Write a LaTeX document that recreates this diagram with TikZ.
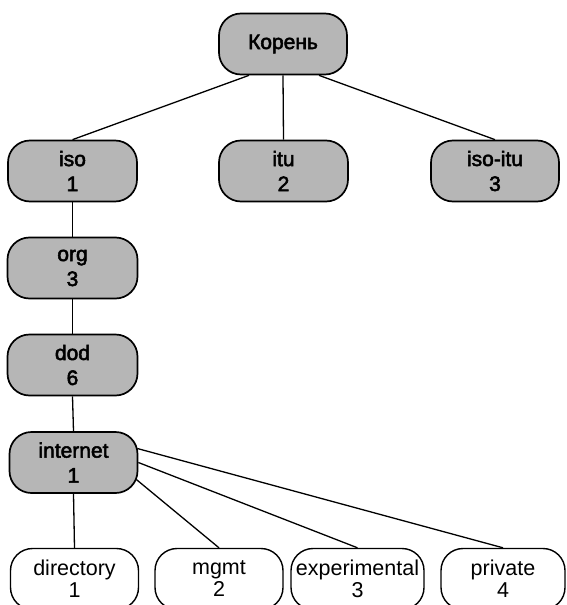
\documentclass[tikz,border=0pt]{standalone}
\usepackage{fontspec}
\setmainfont{Liberation Sans}
\newfontfamily\heavyfont[FakeBold=2.5]{Liberation Sans}
\usetikzlibrary{calc}
\definecolor{nodegray}{RGB}{182,182,182}
\tikzset{
  box/.style={draw=black, rounded corners=22pt,
    minimum width=129pt, minimum height=61pt, inner sep=2pt, align=center},
  oidnode/.style={box, fill=nodegray, line width=1.7pt,
    font=\heavyfont\fontsize{21pt}{25pt}\selectfont},
  leafnode/.style={box, fill=white, line width=1.4pt,
    font=\fontsize{21.5pt}{22pt}\selectfont},
  edge/.style={draw=black, line width=1.3pt}
}
\begin{document}
\begin{tikzpicture}[x=1pt, y=-1pt]
  \path[use as bounding box] (0,0) rectangle (566,605);
  \clip (0,0) rectangle (566,605);

  % upper levels of the object identifier tree
  \node[oidnode, minimum width=128pt] (root)   at (283,44)  {Корень};
  \node[oidnode, minimum width=129pt] (iso)    at (72.5,171) {iso\\1};
  \node[oidnode, minimum width=129pt] (itu)    at (283.5,171) {itu\\2};
  \node[oidnode, minimum width=128pt] (isoitu) at (495,171) {iso-itu\\3};
  \node[oidnode, minimum width=130pt] (org)    at (72.5,268) {org\\3};
  \node[oidnode, minimum width=130pt] (dod)    at (72.5,365) {dod\\6};
  \node[oidnode, minimum width=128pt] (inet)   at (73.5,462.5) {internet\\1};

  % children of internet
  \node[leafnode, minimum width=128pt] (dir)  at (74.5,579) {directory\\1};
  \node[leafnode, minimum width=128pt] (mgmt) at (219,579)  {mgmt\\2};
  \node[leafnode, minimum width=133pt] (exp)  at (357.5,579) {experimental\\3};
  \node[leafnode, minimum width=124pt] (priv) at (503,579)  {private\\4};

  % connectors
  \draw[edge] ($(root.south)+(-34,0)$) -- (iso.north);
  \draw[edge] (root.south) -- (itu.north);
  \draw[edge] ($(root.south)+(36,0)$) -- (isoitu.north);
  \draw[edge] (iso.south) -- (org.north);
  \draw[edge] (org.south) -- (dod.north);
  \draw[edge] (dod.south) -- (inet.north);
  \draw[edge] (inet.south) -- (dir.north);
  \draw[edge] ($(inet.east)+(-2,17)$) -- (mgmt.north);
  \draw[edge] (inet.east) -- (exp.north);
  \draw[edge] ($(inet.east)+(-1,-14)$) -- (priv.north);
\end{tikzpicture}
\end{document}
